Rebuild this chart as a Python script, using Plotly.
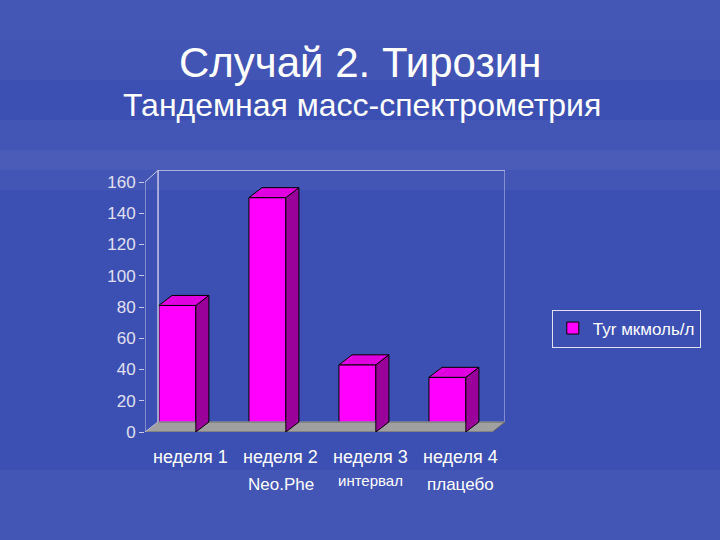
import plotly.graph_objects as go

categories = ["неделя 1", "неделя 2", "неделя 3", "неделя 4"]
sublabels = ["", "Neo.Phe", "интервал", "плацебо"]
values = [81, 150, 43, 35]
series_name = "Tyr мкмоль/л"
yticks = [0, 20, 40, 60, 80, 100, 120, 140, 160]

W = 0.41; DX = 0.145; DY = 6.4
FRONT = "#ff00ff"; SIDE = "#9a009a"; TOP = "#e000e0"

fig = go.Figure()
xs = list(range(len(values)))
fig.add_trace(go.Scatter(x=[-0.36+DX, 3.64, 3.64, -0.36+DX, -0.36+DX], y=[DY, DY, 167.5, 167.5, DY],
                         mode="lines", line=dict(color="#c8c8e8", width=1),
                         showlegend=False, hoverinfo="skip"))
fig.add_trace(go.Scatter(x=[-0.36, 3.5, 3.64, -0.36+DX, -0.36], y=[0, 0, DY, DY, 0],
                         mode="lines", line=dict(color="#666", width=1), fill="toself",
                         fillcolor="#a0a0a0", showlegend=False, hoverinfo="skip"))
fig.add_trace(go.Scatter(x=[-0.36, -0.36+DX, -0.36+DX, -0.36, -0.36], y=[0, DY, 167.5, 160, 0],
                         mode="lines", line=dict(color="#c8c8e8", width=1),
                         showlegend=False, hoverinfo="skip"))
for x, v in zip(xs, values):
    l, r = x - W/2, x + W/2
    fig.add_trace(go.Scatter(x=[r, r+DX, r+DX, r, r], y=[0, DY, v+DY, v, 0], mode="lines",
                             fill="toself", fillcolor=SIDE, line=dict(color="black", width=1),
                             showlegend=False, hoverinfo="skip"))
    fig.add_trace(go.Scatter(x=[l, r, r+DX, l+DX, l], y=[v, v, v+DY, v+DY, v], mode="lines",
                             fill="toself", fillcolor=TOP, line=dict(color="black", width=1),
                             showlegend=False, hoverinfo="skip"))
fig.add_trace(go.Bar(x=xs, y=values, width=W, marker=dict(color=FRONT, line=dict(color="black", width=1)),
                     name=series_name, showlegend=True))

lab = dict(size=18, color="white", family="Liberation Sans")
for x, c, s in zip(xs, categories, sublabels):
    fig.add_annotation(x=x+0.15, y=0, yshift=-25, text=c, showarrow=False, font=lab)
    if s:
        small = s == "интервал"
        fig.add_annotation(x=x+0.15, y=0, yshift=-48 if small else -52, text=s, showarrow=False,
                           font=dict(lab, size=15 if small else 17), yanchor="middle")

# soft background banding (approximate the cloudy gradient)
bands = [(0, 40, 0.05), (40, 80, 0.03), (120, 150, 0.04), (150, 170, 0.08), (170, 190, 0.04),
         (470, 540, 0.04)]
shapes = []
for y0, y1, a in bands:
    shapes.append(dict(type="rect", xref="paper", yref="paper", layer="below", line=dict(width=0),
                       x0=-145/360, x1=(720-145)/360, y0=(432-y1)/262, y1=(432-y0)/262,
                       fillcolor=f"rgba(255,255,255,{a})"))

fig.update_layout(
    width=720, height=540,
    margin=dict(l=145, r=215, t=170, b=108),
    paper_bgcolor="#3c4fb2", plot_bgcolor="rgba(0,0,0,0)", shapes=shapes,
    xaxis=dict(range=[-0.36, 3.64], showticklabels=False, showgrid=False, zeroline=False, fixedrange=True),
    yaxis=dict(range=[0, 167.7], tickvals=yticks, showgrid=False, zeroline=False,
               ticks="outside", ticklen=5, tickcolor="#c8c8e8",
               tickfont=dict(size=17, color="#e0e0f0", family="Liberation Sans")),
    legend=dict(x=1.13, y=0.395, xanchor="left", yanchor="middle", bgcolor="rgba(0,0,0,0)",
                bordercolor="#e0e0f0", borderwidth=1, itemwidth=30,
                font=dict(size=17, color="white", family="Liberation Sans")),
    showlegend=True,
)
fig.add_annotation(xref="paper", yref="paper", x=(360-145)/360, y=1+(170-62)/262, yanchor="middle",
                   text="Случай 2. Тирозин", showarrow=False,
                   font=dict(size=42, color="white", family="Liberation Sans"))
fig.add_annotation(xref="paper", yref="paper", x=(362-145)/360, y=1+(170-105)/262, yanchor="middle",
                   text="Тандемная масс-спектрометрия", showarrow=False,
                   font=dict(size=32, color="white", family="Liberation Sans"))
fig.write_html("out.html", config={"displayModeBar": False},
               post_script="document.body.style.margin='0';")
